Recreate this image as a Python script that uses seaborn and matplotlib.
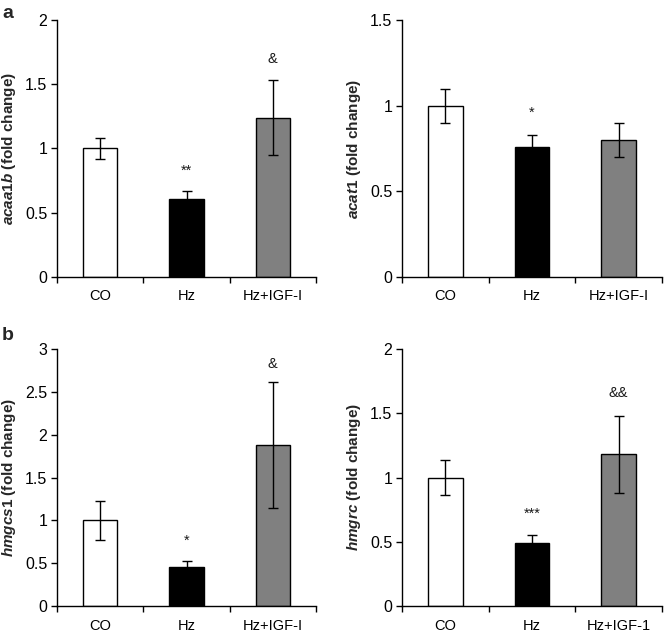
import matplotlib
matplotlib.use("Agg")
import matplotlib.pyplot as plt
import seaborn as sns
import numpy as np
import pandas as pd
from matplotlib.ticker import FixedLocator, FixedFormatter

# ---------------- data ----------------
groups_a = ["CO", "Hz", "Hz+IGF-I"]
groups_b_right = ["CO", "Hz", "Hz+IGF-1"]

acaa1b_mean = [1.00, 0.61, 1.24]
acaa1b_err = [0.08, 0.06, 0.29]
acaa1b_marks = ["", "**", "&"]
acaa1b_ticks = [0, 0.5, 1, 1.5, 2]
acaa1b_ticklabels = ["0", "0.5", "1", "1.5", "2"]

acat1_mean = [1.00, 0.76, 0.80]
acat1_err = [0.10, 0.07, 0.10]
acat1_marks = ["", "*", ""]
acat1_ticks = [0, 0.5, 1, 1.5]
acat1_ticklabels = ["0", "0.5", "1", "1.5"]

hmgcs1_mean = [1.00, 0.45, 1.88]
hmgcs1_err = [0.23, 0.08, 0.74]
hmgcs1_marks = ["", "*", "&"]
hmgcs1_ticks = [0, 0.5, 1, 1.5, 2, 2.5, 3]
hmgcs1_ticklabels = ["0", "0.5", "1", "1.5", "2", "2.5", "3"]

hmgrc_mean = [1.00, 0.49, 1.18]
hmgrc_err = [0.14, 0.06, 0.30]
hmgrc_marks = ["", "***", "&&"]
hmgrc_ticks = [0, 0.5, 1, 1.5, 2]
hmgrc_ticklabels = ["0", "0.5", "1", "1.5", "2"]

bar_colors = ["#ffffff", "#000000", "#808080"]

# ---------------- style ----------------
sns.set_theme(style="white")
plt.rcParams["font.family"] = ["Liberation Sans", "DejaVu Sans"]
plt.rcParams["mathtext.fontset"] = "custom"
plt.rcParams["mathtext.it"] = "Liberation Sans:bold:italic"
plt.rcParams["mathtext.rm"] = "Liberation Sans:bold"
plt.rcParams["mathtext.bf"] = "Liberation Sans:bold"

fig = plt.figure(figsize=(6.64, 6.41), dpi=100)

W, H = 664, 641


def axes_px(x0, y0, x1, y1):
    return fig.add_axes([x0 / W, 1 - y1 / H, (x1 - x0) / W, (y1 - y0) / H])


def panel(ax, cats, mean, err, marks, ticks, ticklabels, gene, mark_y):
    df = pd.DataFrame({"group": cats, "value": mean})
    sns.barplot(data=df, x="group", y="value", hue="group", palette=bar_colors,
                width=0.4, edgecolor="black", linewidth=1.0, legend=False,
                ax=ax, saturation=1)
    ax.errorbar(x=np.arange(len(cats)), y=mean, yerr=err, fmt="none",
                ecolor="black", elinewidth=1.0, capsize=3.5, capthick=1.0,
                zorder=5)
    for i, (m, yv) in enumerate(zip(marks, mark_y)):
        if m:
            ax.text(i, yv, m, ha="center", va="center", fontsize=10.5,
                    color="#1a1a1a")
    ax.set_xlim(-0.5, len(cats) - 0.5)
    ax.set_ylim(ticks[0], ticks[-1])
    ax.yaxis.set_major_locator(FixedLocator(ticks))
    ax.yaxis.set_major_formatter(FixedFormatter(ticklabels))
    ax.set_xticks(np.arange(len(cats)))
    ax.set_xticklabels(cats)
    ax.set_xticks(np.arange(-0.5, len(cats)), minor=True)
    ax.tick_params(axis="x", which="major", length=0, pad=9, labelsize=10.5,
                   colors="black")
    ax.tick_params(axis="x", which="minor", length=4, width=1,
                   direction="out", bottom=True, color="black")
    ax.tick_params(axis="y", which="major", length=4, width=1,
                   direction="out", left=True, pad=3, labelsize=11.5,
                   colors="black")
    for s in ["top", "right"]:
        ax.spines[s].set_visible(False)
    for s in ["left", "bottom"]:
        ax.spines[s].set_color("black")
        ax.spines[s].set_linewidth(1.0)
    ax.set_xlabel("")
    ax.set_ylabel(r"$\mathit{" + gene + r"}$ (fold change)", fontsize=11,
                  fontweight="bold", labelpad=5)
    ax.grid(False)


ax1 = axes_px(57, 20, 316, 277)
panel(ax1, groups_a, acaa1b_mean, acaa1b_err, acaa1b_marks,
      acaa1b_ticks, acaa1b_ticklabels, "acaa1b", [None, 0.83, 1.70])

ax2 = axes_px(402, 20, 662, 277)
panel(ax2, groups_a, acat1_mean, acat1_err, acat1_marks,
      acat1_ticks, acat1_ticklabels, "acat1", [None, 0.96, None])

ax3 = axes_px(57, 349, 316, 606)
panel(ax3, groups_a, hmgcs1_mean, hmgcs1_err, hmgcs1_marks,
      hmgcs1_ticks, hmgcs1_ticklabels, "hmgcs1", [None, 0.76, 2.82])

ax4 = axes_px(402, 349, 662, 606)
panel(ax4, groups_b_right, hmgrc_mean, hmgrc_err, hmgrc_marks,
      hmgrc_ticks, hmgrc_ticklabels, "hmgrc", [None, 0.72, 1.66])

fig.text(2 / W, 1 - 14 / H, "a", fontsize=14, fontweight="bold",
         ha="left", va="center")
fig.text(2 / W, 1 - 335 / H, "b", fontsize=14, fontweight="bold",
         ha="left", va="center")

fig.savefig("out.png", dpi=100, facecolor="white")
